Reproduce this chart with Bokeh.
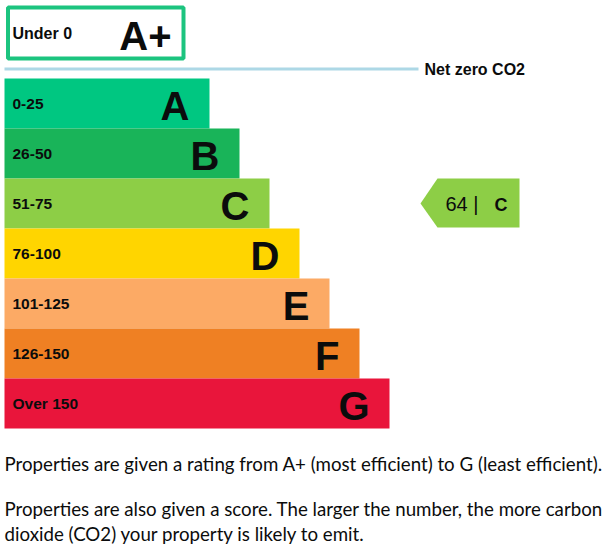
from bokeh.plotting import figure
from bokeh.models import Range1d
from bokeh.core.properties import value
from bokeh.embed import file_html
from bokeh.resources import INLINE

# ---- data ----
bands = ["A", "B", "C", "D", "E", "F", "G"]
score_ranges = ["0-25", "26-50", "51-75", "76-100", "101-125", "126-150", "Over 150"]
bar_ends = [209, 239, 269, 299, 329, 359, 389]
band_colors = ["#00c781", "#19b459", "#8dce46", "#ffd500", "#fcaa65", "#ef8023", "#e9153b"]
top_band = "A+"
top_range = "Under 0"
net_zero_label = "Net zero CO2"
score = 64
rating = "C"
notes = [
    "Properties are given a rating from A+ (most efficient) to G (least efficient).",
    "Properties are also given a score. The larger the number, the more carbon",
    "dioxide (CO2) your property is likely to emit.",
]

# ---- layout constants ----
ROW0 = 78
ROW_H = 50
LEFT = 4
INK = "#0b0c0c"
ARIAL = value("Liberation Sans")
W, H = 605, 547

p = figure(width=W, height=H, x_range=Range1d(0, W), y_range=Range1d(H, 0),
           output_backend="svg", toolbar_location=None, min_border=0,
           background_fill_color="white", border_fill_color="white")
p.axis.visible = False
p.grid.visible = False
p.outline_line_color = None

# A+ box
p.quad(left=[7.5], right=[183], top=[7], bottom=[58], fill_color="white",
       line_color="#1cc47f", line_width=4)
p.text(x=[12], y=[33], text=[top_range], text_font=ARIAL, text_font_style="bold",
       text_font_size="16px", text_baseline="middle", text_color=INK)
p.text(x=[171], y=[35], text=[top_band], text_font=ARIAL, text_font_style="bold",
       text_font_size="40px", text_baseline="middle", text_align="right", text_color=INK)

# net zero line
p.segment(x0=[LEFT], x1=[418], y0=[68.5], y1=[68.5], line_color="#add8e6", line_width=3)
p.text(x=[424], y=[69], text=[net_zero_label], text_font=ARIAL, text_font_style="bold",
       text_font_size="16px", text_baseline="middle", text_color=INK)

# bands
tops = [ROW0 + ROW_H * i for i in range(len(bands))]
bottoms = [t + ROW_H for t in tops]
centers = [t + ROW_H / 2 for t in tops]
p.quad(left=[LEFT] * len(bands), right=bar_ends, top=tops, bottom=bottoms,
       fill_color=band_colors, line_color=None)
p.text(x=[12] * len(bands), y=centers, text=score_ranges, text_font=ARIAL,
       text_font_style="bold", text_font_size="15.5px", text_baseline="middle",
       text_color=INK)
p.text(x=[e - 20 for e in bar_ends], y=[c + 2 for c in centers], text=bands,
       text_font=ARIAL, text_font_style="bold", text_font_size="40px",
       text_baseline="middle", text_align="right", text_color=INK)

# pointer
ri = bands.index(rating)
pt, pb, pc = tops[ri], bottoms[ri] - 1, centers[ri]
p.patch(x=[420, 437, 519, 519, 437], y=[pc, pt, pt, pb, pb],
        fill_color=band_colors[ri], line_color=None)
p.text(x=[445], y=[pc], text=[f"{score} |"], text_font=ARIAL,
       text_font_size="20px", text_baseline="middle", text_color=INK)
p.text(x=[494], y=[pc + 1], text=[rating], text_font=ARIAL, text_font_style="bold",
       text_font_size="18px", text_baseline="middle", text_color=INK)

# notes
p.text(x=[LEFT] * 3, y=[463, 508, 533], text=notes, text_font=value("Lato"),
       text_font_size="18.7px", text_baseline="middle", text_color=INK)

open("out.html", "w").write(file_html(p, INLINE))
